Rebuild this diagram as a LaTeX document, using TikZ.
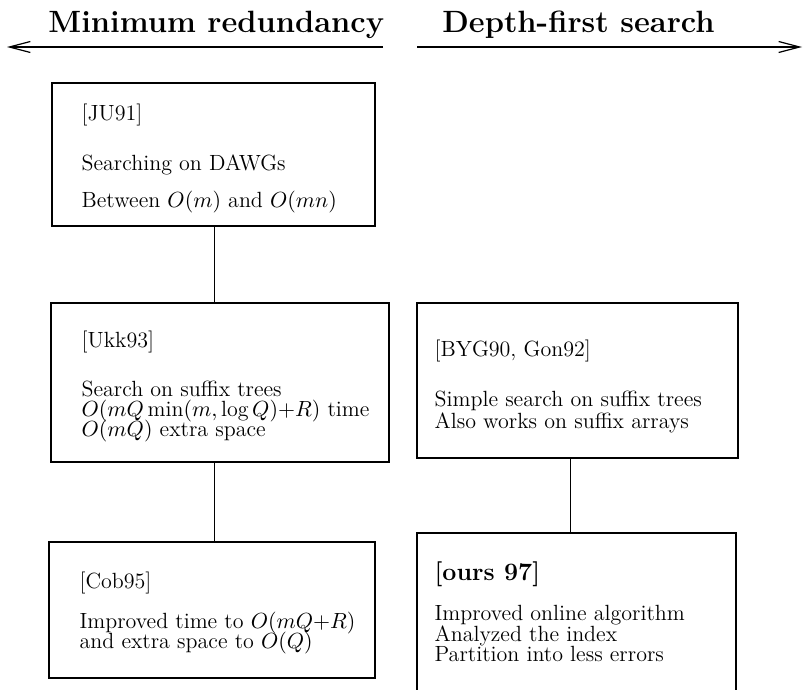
\documentclass[tikz,border=0pt]{standalone}
\usepackage{fontspec}
\usetikzlibrary{arrows.meta,calc}
\newcommand\mytxtfont{\fontsize{11}{10.2}\selectfont\lineskiplimit=-20pt\relax}
\begin{document}
\begin{tikzpicture}[x=0.5pt,y=-0.5pt,
  box/.style={draw,line width=0.75pt,inner sep=0pt},
  txt/.style={inner sep=0pt,align=left,anchor=west,font=\mytxtfont},
  hd/.style={font=\bfseries\fontsize{15.4}{18}\selectfont,inner sep=0pt,anchor=base west},
  conn/.style={line width=0.5pt},
  axis/.style={line width=0.9pt,-{Straight Barb[length=10.5pt,width=5.5pt,line width=0.6pt]}}]
\path[use as bounding box] (0,0) rectangle (803,690);
\clip (0,0) rectangle (803,690);
% headings
\node[hd] (h1) at (48,33) {Minimum redundancy};
\node[hd] (h2) at (442,33) {Depth-first search};
\coordinate (l1) at (383,47);
\coordinate (l0) at (7,47);
\coordinate (r0) at (417,47);
\coordinate (r1) at (802,47);
\draw[axis] (l1) -- (l0);
\draw[axis] (r0) -- (r1);
% boxes
\node[box,minimum width=161.5pt,minimum height=71.5pt] (ju) at (213.5,154.5) {};
\node[box,minimum width=169pt,minimum height=79.5pt] (ukk) at (220,382.5) {};
\node[box,minimum width=163pt,minimum height=68pt] (cob) at (212,610) {};
\node[box,minimum width=160.5pt,minimum height=77.5pt] (byg) at (577.5,380.5) {};
\node[box,minimum width=159.5pt,minimum height=97pt] (ours) at (576.5,630) {};
% texts
\node[txt] (jut) at ([xshift=15pt,yshift=-2pt]ju.west) {[JU91]\\[15pt]Searching on DAWGs\\[8.5pt]Between $O(m)$ and $O(mn)$};
\node[txt] (ukkt) at ([xshift=15.5pt,yshift=-2pt]ukk.west) {[Ukk93]\\[14.3pt]Search on suffix trees\\$O(mQ\min(m{,}\log Q){+}R)$ time\\$O(mQ)$ extra space};
\node[txt] (cobt) at ([xshift=15.5pt,yshift=-1.5pt]cob.west) {[Cob95]\\[10pt]Improved time to $O(mQ{+}R)$\\and extra space to $O(Q)$};
\node[txt] (bygt) at ([xshift=9pt,yshift=-3pt]byg.west) {[BYG90, Gon92]\\[15pt]Simple search on suffix trees\\[1pt]Also works on suffix arrays};
\node[txt,anchor=north west] (ourst) at ([xshift=9pt,yshift=-14.5pt]ours.north west) {{\bfseries\fontsize{12.5}{13}\selectfont [ours 97]}\\[10pt]Improved online algorithm\\Analyzed the index\\Partition into less errors};
% connectors
\draw[conn] (ju.south -| 214,0) -- (ukk.north -| 214,0);
\draw[conn] (ukk.south -| 214,0) -- (cob.north -| 214,0);
\draw[conn] (byg.south -| 570.5,0) -- (ours.north -| 570.5,0);
\end{tikzpicture}
\end{document}
